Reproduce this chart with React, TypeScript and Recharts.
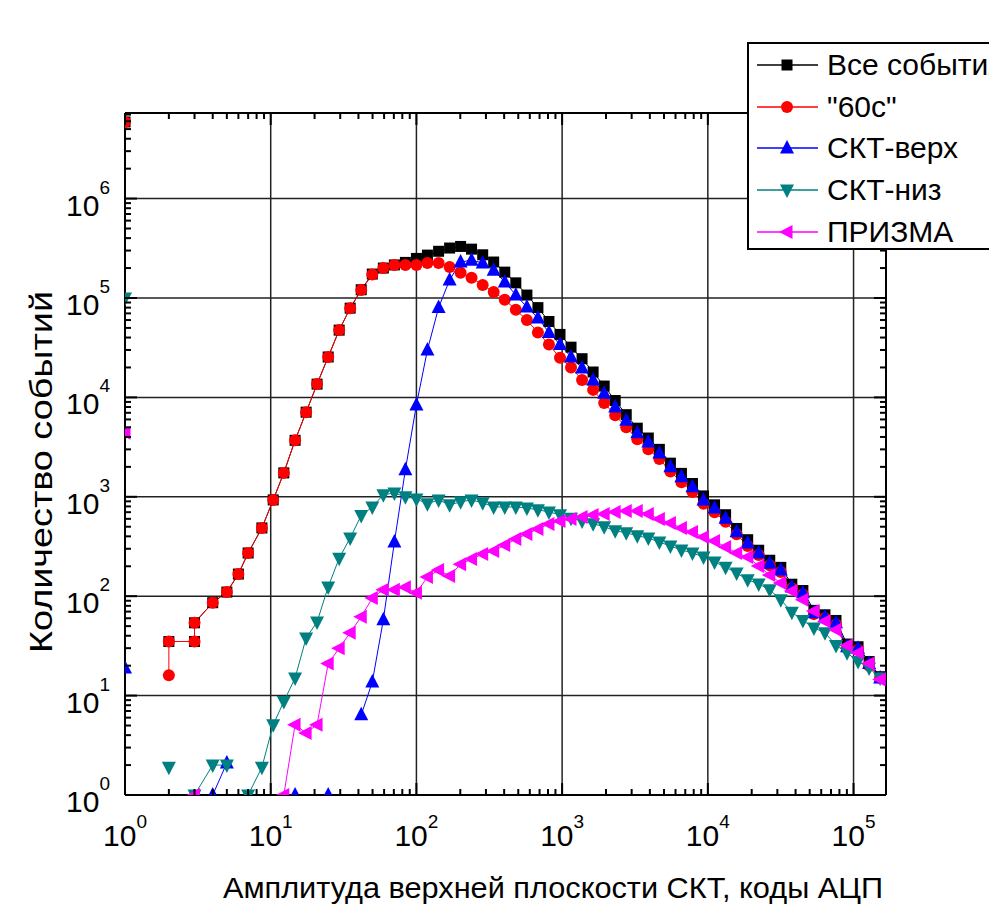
import React from 'react';
import { ComposedChart, Line, XAxis, YAxis, ReferenceLine, Legend } from 'recharts';

// ADC bin centres (log bins above 8 codes)
const ADC = [
  8.7, 10.4, 12.3, 14.7, 17.5, 20.8, 24.8, 29.5, 35.1, 41.8, 49.8, 59.3, 70.6, 84, 100, 119, 142,
  169, 201, 239, 285, 339, 404, 481, 573, 682, 812, 967, 1151, 1370, 1632, 1943, 2313, 2754, 3279,
  3904, 4648, 5534, 6589, 7845, 9340, 11120, 13240, 15760, 18770, 22340, 26600, 31670, 37710,
  44900, 53450, 63640, 75770, 90220, 107400, 127900, 152300,
];

// low-amplitude parts (integer codes), null = empty bin (line break)
const ALL_LOW: [number, number | null][] = [
  [1, 5.9e6], [1.5, null], [2, 35], [3, 35], [3, 54], [4, 86], [5, 110], [6, 167], [7, 272],
];
const SIXTY_LOW: [number, number | null][] = [
  [1, 5.9e6], [1.5, null], [2, 16], [2, 35], [3, 35], [3, 54], [4, 86], [5, 110], [6, 167], [7, 272],
];
const TOP_LOW: [number, number | null][] = [[1, 19], [2, null], [4, 1], [5, 2.1], [6, null]];
const BOTTOM_LOW: [number, number | null][] = [
  [1, 1e5], [1.5, null], [2, 1.9], [2.5, null], [3, 1], [4, 2], [5, 2], [6, null], [7, 1],
];
const PRISMA_LOW: [number, number | null][] = [[1, 4400], [2, null], [3, 1], [4, null]];

// counts on the ADC bins
const ALL_MAIN = [
  486, 930, 1740, 3700, 7100, 13600, 25500, 47500, 79000, 121000, 174000, 200000, 215000, 228000,
  250000, 270000, 295000, 318000, 330000, 310000, 272000, 230000, 182000, 142000, 107000, 80000,
  58000, 43000, 32000, 24500, 18000, 13000, 9300, 6700, 4900, 3900, 3000, 2180, 1720, 1360, 1020,
  830, 660, 480, 370, 290, 230, 195, 132, 114, 72, 65, 57, 33, 31, 22, 15.5,
];
const SIXTY_MAIN = [
  486, 930, 1740, 3700, 7100, 13600, 25500, 47500, 79000, 120000, 172000, 200000, 215000, 215000,
  215000, 225000, 225000, 205000, 179000, 160000, 135000, 115000, 96000, 76000, 60000, 45000,
  34000, 25000, 20000, 15000, 11900, 8800, 6600, 5000, 3800, 3000, 2400, 1800, 1400, 1120, 850,
  700, 560, 420, 320, 260, 205, 175, 120, 104, 66, 60, 52, 30, 29, 20, 15,
];
const TOP_MAIN = [
  null, null, null, 1, null, null, 1, null, null, 6.4, 13.7, 58, 350, 1870, 8400, 30000, 80000,
  152000, 230000, 240000, 225000, 190000, 145000, 107000, 81000, 63000, 45000, 34000, 25500, 19800,
  15000, 11000, 8000, 5900, 4400, 3550, 2760, 2000, 1590, 1260, 930, 770, 610, 445, 343, 272, 215,
  183, 124, 108, 68, 62, 54, 31, 30, 21, 15,
];
const BOTTOM_MAIN = [
  1.9, 5.1, 8.7, 15, 38, 55, 124, 241, 385, 650, 790, 1050, 1090, 1000, 950, 850, 930, 830, 890,
  930, 870, 790, 790, 790, 770, 740, 705, 660, 610, 570, 535, 500, 455, 435, 405, 385, 350, 320,
  292, 272, 248, 221, 196, 171, 146, 133, 116, 92, 69, 57, 48, 43, 32, 27, 22, 19, 15,
];
const PRISMA_MAIN = [
  null, null, 1, 5.1, 4.2, 5.1, 21, 30, 43, 62, 96, 116, 116, 123, 108, 156, 183, 160, 210, 236,
  266, 285, 327, 376, 422, 474, 532, 571, 598, 627, 656, 671, 703, 720, 720, 671, 598, 545, 486,
  443, 394, 359, 313, 272, 248, 201, 163, 136, 113, 92, 71, 56, 46, 32, 27, 21, 14.5,
];

const X_MAX = 167000;
const Y_MAX = 7.26e6;
const X_DECADES = [1, 10, 100, 1000, 10000, 100000];
const Y_DECADES = [1, 10, 100, 1000, 10000, 100000, 1000000];
const MULT = [1, 2, 3, 4, 5, 6, 7, 8, 9];
const X_TICKS = X_DECADES.flatMap(d => MULT.map(m => m * d)).filter(v => v <= X_MAX);
const Y_TICKS = Y_DECADES.flatMap(d => MULT.map(m => m * d)).filter(v => v <= Y_MAX);

const FONT = '"Liberation Sans", Arial, sans-serif';

type Pt = { x: number; y: number | null };
const build = (low: [number, number | null][], main: (number | null)[]): Pt[] => [
  ...low.map(([x, y]) => ({ x, y })),
  ...ADC.map((x, i) => ({ x, y: main[i] })),
];

const SERIES = [
  { name: 'Все события', color: '#000000', kind: 'square', data: build(ALL_LOW, ALL_MAIN) },
  { name: '"60с"', color: '#ff0000', kind: 'circle', data: build(SIXTY_LOW, SIXTY_MAIN) },
  { name: 'СКТ-верх', color: '#0000ff', kind: 'up', data: build(TOP_LOW, TOP_MAIN) },
  { name: 'СКТ-низ', color: '#008080', kind: 'down', data: build(BOTTOM_LOW, BOTTOM_MAIN) },
  { name: 'ПРИЗМА', color: '#ff00ff', kind: 'left', data: build(PRISMA_LOW, PRISMA_MAIN) },
];

function Marker({ kind, cx, cy, color }: { kind: string; cx: number; cy: number; color: string }) {
  switch (kind) {
    case 'square':
      return <rect x={cx - 5.5} y={cy - 5.5} width={11} height={11} fill={color} />;
    case 'circle':
      return <circle cx={cx} cy={cy} r={6} fill={color} />;
    case 'up':
      return <polygon points={`${cx},${cy - 8} ${cx - 7},${cy + 5.5} ${cx + 7},${cy + 5.5}`} fill={color} />;
    case 'down':
      return <polygon points={`${cx - 7},${cy - 5.5} ${cx + 7},${cy - 5.5} ${cx},${cy + 8}`} fill={color} />;
    default:
      return <polygon points={`${cx - 8},${cy} ${cx + 5.5},${cy - 7} ${cx + 5.5},${cy + 7}`} fill={color} />;
  }
}

const dotFor = (kind: string, color: string) => (p: any) => {
  const { cx, cy, index } = p;
  if (p.value == null || cx == null || cy == null || !isFinite(cx) || !isFinite(cy)) {
    return <g key={`d${index}`} />;
  }
  return (
    <g key={`d${index}`}>
      <Marker kind={kind} cx={cx} cy={cy} color={color} />
    </g>
  );
};

const isDecade = (v: number) => {
  const e = Math.round(Math.log10(v));
  return Math.abs(v - Math.pow(10, e)) < 1e-6 * v;
};

const BottomTick = (p: any) => {
  const { x, y, payload } = p;
  const v = payload.value;
  const major = isDecade(v);
  const e = Math.round(Math.log10(v));
  return (
    <g>
      <line x1={x} x2={x} y1={y} y2={y - (major ? 12 : 6)} stroke="#000" strokeWidth={2} />
      {major && (
        <text x={x} y={y + 51} textAnchor="middle" fontSize={30} fontFamily={FONT} fill="#000">
          10<tspan dy={-18} fontSize={19}>{e}</tspan>
        </text>
      )}
    </g>
  );
};

const TopTick = (p: any) => {
  const { x, y, payload } = p;
  const major = isDecade(payload.value);
  return <line x1={x} x2={x} y1={y} y2={y + (major ? 12 : 6)} stroke="#000" strokeWidth={2} />;
};

const LeftTick = (p: any) => {
  const { x, y, payload } = p;
  const v = payload.value;
  const major = isDecade(v);
  const e = Math.round(Math.log10(v));
  return (
    <g>
      <line x1={x} x2={x + (major ? 12 : 6)} y1={y} y2={y} stroke="#000" strokeWidth={2} />
      {major && (
        <text x={x - 15} y={y + 17} textAnchor="end" fontSize={30} fontFamily={FONT} fill="#000">
          10<tspan dy={-22} fontSize={19}>{e}</tspan>
        </text>
      )}
    </g>
  );
};

const RightTick = (p: any) => {
  const { x, y, payload } = p;
  const major = isDecade(payload.value);
  return <line x1={x} x2={x - (major ? 12 : 6)} y1={y} y2={y} stroke="#000" strokeWidth={2} />;
};

const XTitle = () => (
  <text
    x={553}
    y={898}
    textAnchor="middle"
    fontSize={30}
    fontFamily={FONT}
    fill="#000"
    textLength={660}
    lengthAdjust="spacingAndGlyphs"
  >
    Амплитуда верхней плоскости СКТ, коды АЦП
  </text>
);

const YTitle = () => (
  <text
    transform="translate(52, 472) rotate(-90)"
    textAnchor="middle"
    fontSize={31}
    fontFamily={FONT}
    fill="#000"
    textLength={362}
    lengthAdjust="spacingAndGlyphs"
  >
    Количество событий
  </text>
);

const LegendBox = () => (
  <div
    style={{
      border: '2px solid #000',
      background: '#fff',
      width: 260,
      height: 204,
      fontFamily: FONT,
      color: '#000',
    }}
  >
    {SERIES.map(s => (
      <div key={s.name} style={{ display: 'flex', alignItems: 'center', height: 41.75 }}>
        <svg width={78} height={42} style={{ flex: 'none' }}>
          <line x1={8} x2={69} y1={21} y2={21} stroke={s.color} strokeWidth={1.5} />
          <Marker kind={s.kind} cx={38} cy={21} color={s.color} />
        </svg>
        <span style={{ fontSize: 30, lineHeight: '42px', whiteSpace: 'nowrap' }}>{s.name}</span>
      </div>
    ))}
  </div>
);

export default function App() {
  return (
    <div
      style={{
        position: 'absolute',
        left: 0,
        top: 0,
        width: 989,
        height: 915,
        overflow: 'hidden',
        background: '#fff',
      }}
    >
      <ComposedChart width={989} height={915} margin={{ top: 112, right: 102, bottom: 119, left: 124 }}>
        <XAxis
          xAxisId={0}
          dataKey="x"
          type="number"
          scale="log"
          domain={[1, X_MAX]}
          allowDataOverflow
          ticks={X_TICKS}
          interval={0}
          height={1}
          tickSize={0}
          tickMargin={0}
          tickLine={false}
          tick={<BottomTick />}
          axisLine={{ stroke: '#000', strokeWidth: 2 }}
          label={<XTitle />}
        />
        <XAxis
          xAxisId="top"
          orientation="top"
          dataKey="x"
          type="number"
          scale="log"
          domain={[1, X_MAX]}
          allowDataOverflow
          ticks={X_TICKS}
          interval={0}
          height={1}
          tickSize={0}
          tickMargin={0}
          tickLine={false}
          tick={<TopTick />}
          axisLine={{ stroke: '#000', strokeWidth: 2 }}
        />
        <YAxis
          yAxisId={0}
          type="number"
          scale="log"
          domain={[1, Y_MAX]}
          allowDataOverflow
          ticks={Y_TICKS}
          interval={0}
          width={1}
          tickSize={0}
          tickMargin={0}
          tickLine={false}
          tick={<LeftTick />}
          axisLine={{ stroke: '#000', strokeWidth: 2 }}
          label={<YTitle />}
        />
        <YAxis
          yAxisId="right"
          orientation="right"
          type="number"
          scale="log"
          domain={[1, Y_MAX]}
          allowDataOverflow
          ticks={Y_TICKS}
          interval={0}
          width={1}
          tickSize={0}
          tickMargin={0}
          tickLine={false}
          tick={<RightTick />}
          axisLine={{ stroke: '#000', strokeWidth: 2 }}
        />
        {X_DECADES.slice(1).map(v => (
          <ReferenceLine key={`gx${v}`} xAxisId={0} yAxisId={0} x={v} stroke="#222" strokeWidth={1.5} />
        ))}
        {Y_DECADES.slice(1).map(v => (
          <ReferenceLine key={`gy${v}`} xAxisId={0} yAxisId={0} y={v} stroke="#222" strokeWidth={1.5} />
        ))}
        {SERIES.map(s => (
          <Line
            key={s.name}
            xAxisId={0}
            yAxisId={0}
            data={s.data}
            dataKey="y"
            name={s.name}
            type="linear"
            stroke={s.color}
            strokeWidth={1}
            dot={dotFor(s.kind, s.color)}
            activeDot={false}
            isAnimationActive={false}
          />
        ))}
        <Legend
          layout="vertical"
          align="center"
          verticalAlign="middle"
          content={() => <LegendBox />}
          wrapperStyle={{ position: 'absolute', left: 747, top: 42, right: 'auto', bottom: 'auto', width: 260, height: 208 }}
        />
      </ComposedChart>
    </div>
  );
}
